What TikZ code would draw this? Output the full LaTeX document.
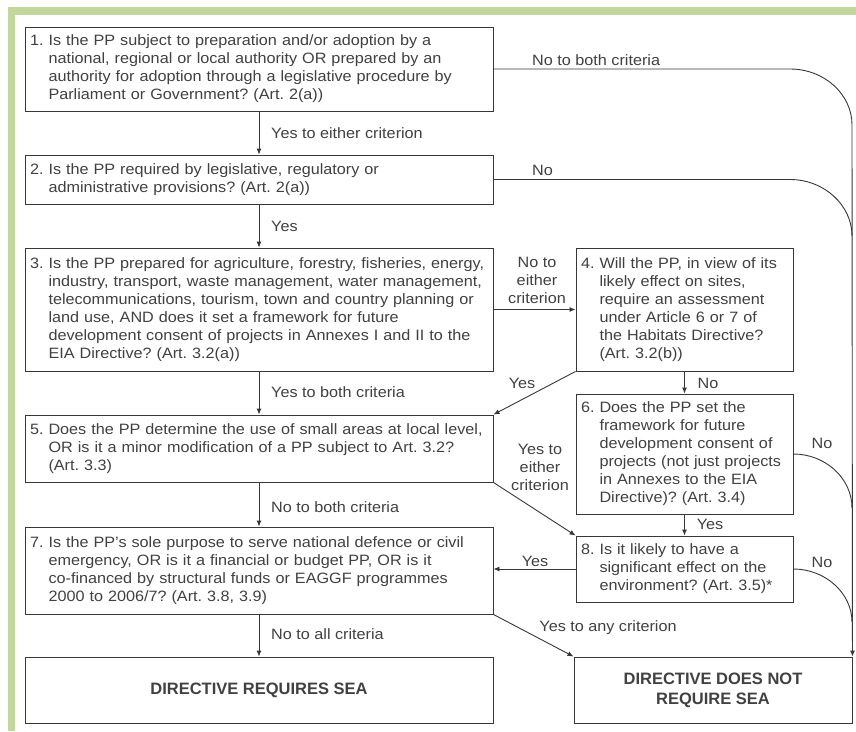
\documentclass[tikz,border=0pt]{standalone}
\usepackage{fontspec}
\setmainfont{Liberation Sans}[FakeStretch=1.08]
\newfontfamily\boldfam{Liberation Sans}
\usetikzlibrary{arrows.meta}
\definecolor{bordergreen}{RGB}{195,214,155}
\definecolor{ink}{RGB}{65,65,65}
\definecolor{linec}{RGB}{55,55,55}
\newcommand{\qtext}[2]{\begin{tabular}{@{}l@{\hspace{5pt}}l@{}}#1&#2\end{tabular}}
\begin{document}
\frenchspacing
\begin{tikzpicture}[x=1pt,y=-1pt,
  box/.style={draw=linec, line width=0.9pt, inner xsep=5pt, inner ysep=0pt, align=left, text=ink, font=\fontsize{15}{18}\selectfont},
  endbox/.style={draw=linec, line width=0.9pt, align=center, text=ink, font=\boldfam\fontsize{16.5}{20}\selectfont\bfseries},
  lab/.style={text=ink, font=\fontsize{15}{18}\selectfont, inner sep=0pt},
  conn/.style={draw=linec, line width=0.9pt},
  arr/.style={conn, -{Latex[length=6pt,width=5pt]}},
]
\useasboundingbox (0,0) rectangle (856,731);
\fill[white] (0,0) rectangle (856,731);
\fill[bordergreen] (8,7) rectangle (856,15);
\fill[bordergreen] (8,7) rectangle (15,731);

% left column
\node[box, minimum width=468pt, minimum height=84pt, text width=458pt] (b1) at (259,69)
 {\qtext{1.}{Is the PP subject to preparation and/or adoption by a\\&national, regional or local authority OR prepared by an\\&authority for adoption through a legislative procedure by\\&Parliament or Government? (Art. 2(a))}};
\node[box, minimum width=468pt, minimum height=49pt, text width=458pt] (b2) at (259,179.5)
 {\qtext{2.}{Is the PP required by legislative, regulatory or\\&administrative provisions? (Art. 2(a))}};
\node[box, minimum width=468pt, minimum height=123pt, text width=458pt] (b3) at (259,309.5)
 {\qtext{3.}{Is the PP prepared for agriculture, forestry, fisheries, energy,\\&industry, transport, waste management, water management,\\&telecommunications, tourism, town and country planning or\\&land use, AND does it set a framework for future\\&development consent of projects in Annexes I and II to the\\&EIA Directive? (Art. 3.2(a))}};
\node[box, minimum width=468pt, minimum height=67pt, text width=458pt] (b5) at (259,448.5)
 {\qtext{5.}{Does the PP determine the use of small areas at local level,\\&OR is it a minor modification of a PP subject to Art. 3.2?\\&(Art. 3.3)}};
\node[box, minimum width=468pt, minimum height=87pt, text width=458pt] (b7) at (259,570.5)
 {\qtext{7.}{Is the PP's sole purpose to serve national defence or civil\\&emergency, OR is it a financial or budget PP, OR is it\\&co-financed by structural funds or EAGGF programmes\\&2000 to 2006/7? (Art. 3.8, 3.9)}};
\node[endbox, minimum width=468pt, minimum height=66pt] (bL) at (259,690) {DIRECTIVE REQUIRES SEA};

% right column
\node[box, minimum width=217pt, minimum height=123pt, text width=207pt] (b4) at (684.5,309.5)
 {\qtext{4.}{Will the PP, in view of its\\&likely effect on sites,\\&require an assessment\\&under Article 6 or 7 of\\&the Habitats Directive?\\&(Art. 3.2(b))}};
\node[box, minimum width=217pt, minimum height=120pt, text width=207pt] (b6) at (684.5,454)
 {\qtext{6.}{Does the PP set the\\&framework for future\\&development consent of\\&projects (not just projects\\&in Annexes to the EIA\\&Directive)? (Art. 3.4)}};
\node[box, minimum width=217pt, minimum height=66pt, text width=207pt] (b8) at (684.5,569)
 {\qtext{8.}{Is it likely to have a\\&significant effect on the\\&environment? (Art. 3.5)*}};
\node[endbox, minimum width=278pt, minimum height=66pt] (bR) at (713,690) {DIRECTIVE DOES NOT\\REQUIRE SEA};

% labels
\node[lab, anchor=west] (l12) at (271,133) {Yes to either criterion};
\node[lab, anchor=west] (l23) at (271,226) {Yes};
\node[lab, anchor=west] (l35) at (271,392) {Yes to both criteria};
\node[lab, anchor=west] (l57) at (271,507) {No to both criteria};
\node[lab, anchor=west] (l7L) at (271,634) {No to all criteria};
\node[lab, anchor=west] (l1N) at (532,60) {No to both criteria};
\node[lab, anchor=west] (l2N) at (532,170) {No};
\node[lab, align=center] (l34) at (537,280) {No to\\either\\criterion};
\node[lab] (l45) at (522,383) {Yes};
\node[lab] (l46) at (708,383) {No};
\node[lab, align=center] (l58) at (540,467) {Yes to\\either\\criterion};
\node[lab] (l68) at (710,524) {Yes};
\node[lab] (l87) at (535,561) {Yes};
\node[lab] (l6N) at (822,443) {No};
\node[lab] (l8N) at (822,562) {No};
\node[lab] (l7R) at (608,628) {Yes to any criterion};

% trunk coordinates
\coordinate (k1) at (790,69);
\coordinate (t1) at (852,125);
\coordinate (k2) at (790,179.5);
\coordinate (t2) at (852,236);
\coordinate (t6) at (852,508);
\coordinate (t8) at (852,622);

% connectors
\draw[arr] (b1.south) -- (b2.north);
\draw[arr] (b2.south) -- (b3.north);
\draw[arr] (b3.south) -- (b5.north);
\draw[arr] (b5.south) -- (b7.north);
\draw[arr] (b7.south) -- (bL.north);
\draw[arr] (b3.east) -- (b4.west);
\draw[arr] (b4.south) -- (b6.north);
\draw[arr] (b6.south) -- (b8.north);
\draw[arr] (b4.south west) -- (b5.north east);
\draw[arr] (b5.south east) -- (b8.north west);
\draw[arr] (b8.west) -- (b8.west -| b7.east);
\draw[arr] (b7.south east) -- (bR.north west);

\draw[arr] (b1.east) -- (k1) .. controls (824,69) and (852,94) .. (t1) -- (bR.north east);
\draw[conn] (b2.east) -- (k2) .. controls (824,179.5) and (852,205) .. (t2);
\draw[conn] (b6.east) .. controls (825,454) and (852,478) .. (t6);
\draw[conn] (b8.east) .. controls (825,569) and (852,593) .. (t8);
\end{tikzpicture}
\end{document}
